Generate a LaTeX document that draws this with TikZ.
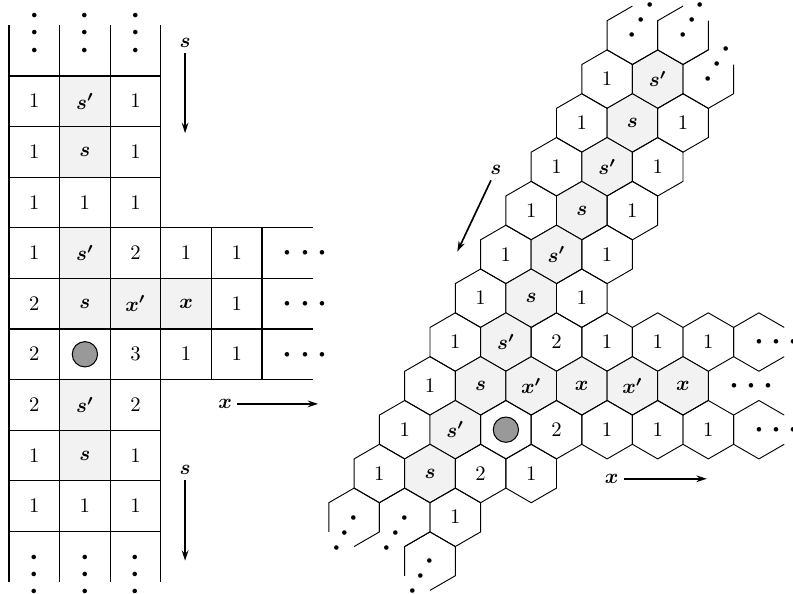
\documentclass[tikz,border=0pt]{standalone}
\usepackage{amsmath,amssymb}
\usepackage{tikz}
\usetikzlibrary{arrows.meta, shapes.geometric}

% three spread dots, the first one centred on the anchor point
\newcommand{\sprdots}{\ensuremath{\mkern-2.5mu{\cdot}\mkern2.25mu{\cdot}\mkern2.25mu{\cdot}}}
\newcommand{\hexside}{0.4965cm}
% hexagon with one side left open; #2 is the corner where the path starts
\newcommand{\openhex}[2]{%
  \draw[hexedge] (#1) ++(#2:\hexside) -- ++(#2+120:\hexside) -- ++(#2+180:\hexside)
    -- ++(#2+240:\hexside) -- ++(#2+300:\hexside) -- ++(#2:\hexside);}

\begin{document}
\begin{tikzpicture}[x=0.86cm, y=0.86cm,
      >={Stealth[length=5pt, width=3.2pt]},
      sqedge/.style={line width=0.5pt},
      sq/.style={draw, sqedge, minimum size=0.86cm, inner sep=0pt, outer sep=0pt},
      sqg/.style={sq, fill=black!5},
      hexedge/.style={line width=0.45pt},
      hx/.style={draw, hexedge, regular polygon, regular polygon sides=6,
        shape border rotate=30, minimum size=0.993cm, inner sep=0pt, outer sep=0pt},
      hxg/.style={hx, fill=black!5},
      stone/.style={circle, draw, line width=0.5pt, fill=black!40,
        minimum size=0.43cm, inner sep=0pt},
      dotrun/.style={font=\huge, inner sep=0pt, text height=10.37pt, text depth=0pt,
        anchor=west},
      dirlbl/.style={inner sep=2.5pt},
      dirarrow/.style={->, line width=0.8pt}]

    \useasboundingbox (-0.178,-0.237) rectangle (15.494,11.502);

    %% ---- square lattice ---------------------------------------------------
    \node[sq]  (q09) at (0.5,9.5) {$1$};
    \node[sqg] (q19) at (1.5,9.5) {$\boldsymbol{s'}$};
    \node[sq]  (q29) at (2.5,9.5) {$1$};

    \node[sq]  (q08) at (0.5,8.5) {$1$};
    \node[sqg] (q18) at (1.5,8.5) {$\boldsymbol{s}$};
    \node[sq]  (q28) at (2.5,8.5) {$1$};

    \node[sq]  (q07) at (0.5,7.5) {$1$};
    \node[sq]  (q17) at (1.5,7.5) {$1$};
    \node[sq]  (q27) at (2.5,7.5) {$1$};

    \node[sq]  (q06) at (0.5,6.5) {$1$};
    \node[sqg] (q16) at (1.5,6.5) {$\boldsymbol{s'}$};
    \node[sq]  (q26) at (2.5,6.5) {$2$};
    \node[sq]  (q36) at (3.5,6.5) {$1$};
    \node[sq]  (q46) at (4.5,6.5) {$1$};

    \node[sq]  (q05) at (0.5,5.5) {$2$};
    \node[sqg] (q15) at (1.5,5.5) {$\boldsymbol{s}$};
    \node[sqg] (q25) at (2.5,5.5) {$\boldsymbol{x'}$};
    \node[sqg] (q35) at (3.5,5.5) {$\boldsymbol{x}$};
    \node[sq]  (q45) at (4.5,5.5) {$1$};

    \node[sq]  (q04) at (0.5,4.5) {$2$};
    \node[sq]  (q14) at (1.5,4.5) {};
    \node[sq]  (q24) at (2.5,4.5) {$3$};
    \node[sq]  (q34) at (3.5,4.5) {$1$};
    \node[sq]  (q44) at (4.5,4.5) {$1$};

    \node[sq]  (q03) at (0.5,3.5) {$2$};
    \node[sqg] (q13) at (1.5,3.5) {$\boldsymbol{s'}$};
    \node[sq]  (q23) at (2.5,3.5) {$2$};

    \node[sq]  (q02) at (0.5,2.5) {$1$};
    \node[sqg] (q12) at (1.5,2.5) {$\boldsymbol{s}$};
    \node[sq]  (q22) at (2.5,2.5) {$1$};

    \node[sq]  (q01) at (0.5,1.5) {$1$};
    \node[sq]  (q11) at (1.5,1.5) {$1$};
    \node[sq]  (q21) at (2.5,1.5) {$1$};

    \node[stone] (stoneSq) at (q14) {};

    % open cells at the three ends
    \draw[sqedge] (0,10) -- (0,11) (1,10) -- (1,11) (2,10) -- (2,11) (3,10) -- (3,11);
    \draw[sqedge] (0,0) -- (0,1) (1,0) -- (1,1) (2,0) -- (2,1) (3,0) -- (3,1);
    \draw[sqedge] (5,4) -- (6,4) (5,5) -- (6,5) (5,6) -- (6,6) (5,7) -- (6,7);

    \node[dotrun, rotate=90]  (v0t) at (0.5,10.5) {\sprdots};
    \node[dotrun, rotate=90]  (v1t) at (1.5,10.5) {\sprdots};
    \node[dotrun, rotate=90]  (v2t) at (2.5,10.5) {\sprdots};
    \node[dotrun, rotate=-90] (v0b) at (0.5,0.5) {\sprdots};
    \node[dotrun, rotate=-90] (v1b) at (1.5,0.5) {\sprdots};
    \node[dotrun, rotate=-90] (v2b) at (2.5,0.5) {\sprdots};
    \node[dotrun] (h6) at (5.5,6.5) {\sprdots};
    \node[dotrun] (h5) at (5.5,5.5) {\sprdots};
    \node[dotrun] (h4) at (5.5,4.5) {\sprdots};

    \node[dirlbl] (sTop) at (3.48,10.65) {$\boldsymbol{s}$};
    \coordinate (sTopEnd) at (3.48,8.87);
    \draw[dirarrow] (sTop) -- (sTopEnd);

    \node[dirlbl] (sBot) at (3.48,2.21) {$\boldsymbol{s}$};
    \coordinate (sBotEnd) at (3.48,0.42);
    \draw[dirarrow] (sBot) -- (sBotEnd);

    \node[dirlbl] (xSq) at (4.27,3.52) {$\boldsymbol{x}$};
    \coordinate (xSqEnd) at (6.11,3.52);
    \draw[dirarrow] (xSq) -- (xSqEnd);

    %% ---- hexagonal lattice (c = along x, r = along s) ---------------------
    \begin{scope}[shift={(9.82,3.01)}, y={(0.5,0.866)}]
      \coordinate (h-2r9) at (-2,9);
      \coordinate (h-1r9) at (-1,9);

      \node[hx]  (h-2r8) at (-2,8) {$1$};
      \node[hxg] (h-1r8) at (-1,8) {$\boldsymbol{s'}$};
      \coordinate (h0r8) at (0,8);

      \node[hx]  (h-2r7) at (-2,7) {$1$};
      \node[hxg] (h-1r7) at (-1,7) {$\boldsymbol{s}$};
      \node[hx]  (h0r7)  at (0,7)  {$1$};

      \node[hx]  (h-2r6) at (-2,6) {$1$};
      \node[hxg] (h-1r6) at (-1,6) {$\boldsymbol{s'}$};
      \node[hx]  (h0r6)  at (0,6)  {$1$};

      \node[hx]  (h-2r5) at (-2,5) {$1$};
      \node[hxg] (h-1r5) at (-1,5) {$\boldsymbol{s}$};
      \node[hx]  (h0r5)  at (0,5)  {$1$};

      \node[hx]  (h-2r4) at (-2,4) {$1$};
      \node[hxg] (h-1r4) at (-1,4) {$\boldsymbol{s'}$};
      \node[hx]  (h0r4)  at (0,4)  {$1$};

      \node[hx]  (h-2r3) at (-2,3) {$1$};
      \node[hxg] (h-1r3) at (-1,3) {$\boldsymbol{s}$};
      \node[hx]  (h0r3)  at (0,3)  {$1$};

      \node[hx]  (h-2r2) at (-2,2) {$1$};
      \node[hxg] (h-1r2) at (-1,2) {$\boldsymbol{s'}$};
      \node[hx]  (h0r2)  at (0,2)  {$2$};
      \node[hx]  (h1r2)  at (1,2)  {$1$};
      \node[hx]  (h2r2)  at (2,2)  {$1$};
      \node[hx]  (h3r2)  at (3,2)  {$1$};
      \coordinate (h4r2) at (4,2);

      \node[hx]  (h-2r1) at (-2,1) {$1$};
      \node[hxg] (h-1r1) at (-1,1) {$\boldsymbol{s}$};
      \node[hxg] (h0r1)  at (0,1)  {$\boldsymbol{x'}$};
      \node[hxg] (h1r1)  at (1,1)  {$\boldsymbol{x}$};
      \node[hxg] (h2r1)  at (2,1)  {$\boldsymbol{x'}$};
      \node[hxg] (h3r1)  at (3,1)  {$\boldsymbol{x}$};
      \coordinate (h4r1) at (4,1);

      \node[hx]  (h-2r0) at (-2,0) {$1$};
      \node[hxg] (h-1r0) at (-1,0) {$\boldsymbol{s'}$};
      \node[hx]  (h0r0)  at (0,0)  {};
      \node[hx]  (h1r0)  at (1,0)  {$2$};
      \node[hx]  (h2r0)  at (2,0)  {$1$};
      \node[hx]  (h3r0)  at (3,0)  {$1$};
      \node[hx]  (h4r0)  at (4,0)  {$1$};
      \coordinate (h5r0) at (5,0);

      \node[hx]  (h-2r-1) at (-2,-1) {$1$};
      \node[hxg] (h-1r-1) at (-1,-1) {$\boldsymbol{s}$};
      \node[hx]  (h0r-1)  at (0,-1)  {$2$};
      \node[hx]  (h1r-1)  at (1,-1)  {$1$};

      \coordinate (h-2r-2) at (-2,-2);
      \coordinate (h-1r-2) at (-1,-2);
      \node[hx]  (h0r-2)  at (0,-2)  {$1$};

      \coordinate (h0r-3) at (0,-3);
    \end{scope}

    \node[stone] (stoneHex) at (h0r0) {};

    % open hexagons at the ends of the arms
    \openhex{h-2r9}{90}
    \openhex{h-1r9}{90}
    \openhex{h0r8}{90}
    \openhex{h4r2}{30}
    \openhex{h5r0}{30}
    \openhex{h-2r-2}{270}
    \openhex{h-1r-2}{270}
    \openhex{h0r-3}{270}

    \node[dotrun, rotate=60]  (d-2r9)  at (h-2r9)  {\sprdots};
    \node[dotrun, rotate=60]  (d-1r9)  at (h-1r9)  {\sprdots};
    \node[dotrun, rotate=60]  (d0r8)   at (h0r8)   {\sprdots};
    \node[dotrun]             (d4r2)   at (h4r2)   {\sprdots};
    \node[dotrun]             (d4r1)   at (h4r1)   {\sprdots};
    \node[dotrun]             (d5r0)   at (h5r0)   {\sprdots};
    \node[dotrun, rotate=240] (d-2r-2) at (h-2r-2) {\sprdots};
    \node[dotrun, rotate=240] (d-1r-2) at (h-1r-2) {\sprdots};
    \node[dotrun, rotate=240] (d0r-3)  at (h0r-3)  {\sprdots};

    \node[dirlbl] (sHex) at (9.62,8.14) {$\boldsymbol{s}$};
    \coordinate (sHexEnd) at (8.86,6.53);
    \draw[dirarrow] (sHex) -- (sHexEnd);

    \node[dirlbl] (xHex) at (11.91,2.04) {$\boldsymbol{x}$};
    \coordinate (xHexEnd) at (13.79,2.04);
    \draw[dirarrow] (xHex) -- (xHexEnd);
  \end{tikzpicture}
\end{document}
